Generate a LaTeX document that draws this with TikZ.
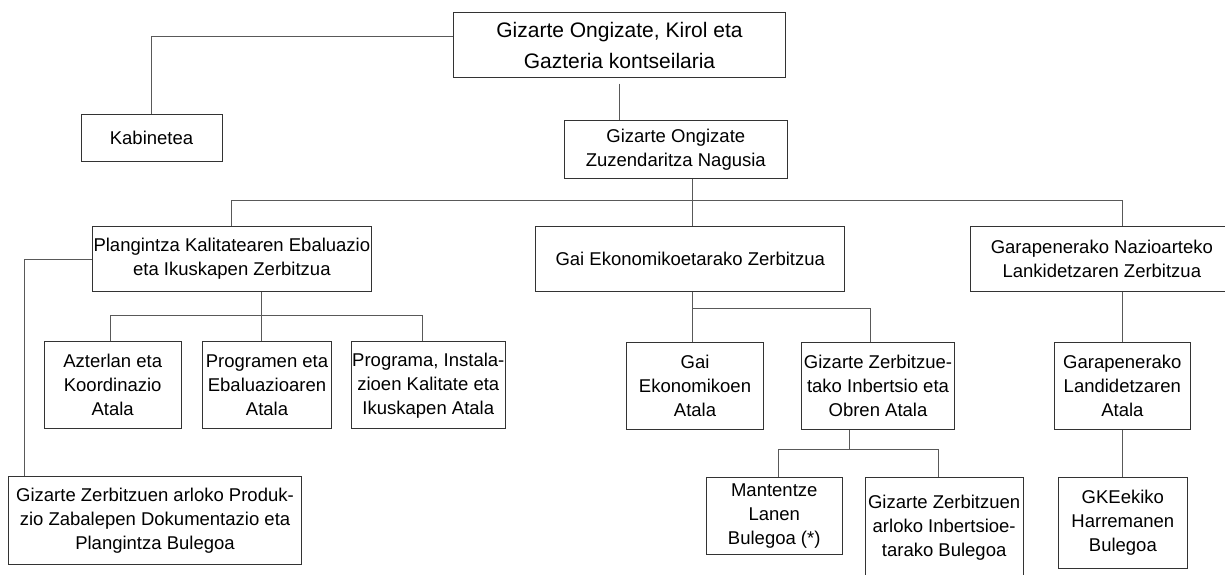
\documentclass[tikz,border=0pt]{standalone}
\usepackage{fontspec}
\setmainfont{Liberation Sans}
\usetikzlibrary{positioning}

\tikzset{
  unitate/.style={draw=black!80, line width=0.9pt, inner sep=1pt, align=center,
    font=\fontsize{18.5}{24}\selectfont},
  atala/.style={unitate, minimum height=87pt},
  lotura/.style={draw=black!65, line width=0.9pt}
}

\begin{document}
\begin{tikzpicture}[x=1pt,y=-1pt]
\useasboundingbox (0,0) rectangle (1225,574);
\clip (0,0) rectangle (1225,574);
% goiko mailak
\node[unitate, minimum width=332pt, minimum height=65pt, font=\fontsize{21}{31}\selectfont]
  (kontseilaria) at (619.5,45) {Gizarte Ongizate, Kirol eta\\Gazteria kontseilaria};
\node[unitate, minimum width=141pt, minimum height=46.6pt] (kabinetea) at (151.5,138) {Kabinetea};
\node[unitate, minimum width=223pt, minimum height=58pt] (zuzendaritza) at (675.8,149.5)
  {Gizarte Ongizate\\Zuzendaritza Nagusia};
% zerbitzuak
\node[unitate, minimum width=279.7pt, minimum height=64.6pt] (plangintza) at (231.85,259)
  {Plangintza Kalitatearen Ebaluazio\\eta Ikuskapen Zerbitzua};
\node[unitate, minimum width=309pt, minimum height=64.6pt] (ekonomia) at (690.2,259)
  {Gai Ekonomikoetarako Zerbitzua};
\node[unitate, minimum width=262.3pt, minimum height=64.6pt] (nazioarteko) at (1101.85,259)
  {Garapenerako Nazioarteko\\Lankidetzaren Zerbitzua};
% atalak
\node[atala, minimum width=136.6pt] (azterlan) at (112.7,385.35) {Azterlan eta\\Koordinazio\\Atala};
\node[atala, minimum width=129pt] (programen) at (267,385.35) {Programen eta\\Ebaluazioaren\\Atala};
\node[atala, minimum width=152.2pt] (instalazio) at (428.3,385.35)
  {Programa, Instala-\\zioen Kalitate eta\\Ikuskapen Atala};
\node[atala, minimum width=136.7pt] (ekonomikoen) at (695,385.85) {Gai\\Ekonomikoen\\Atala};
\node[atala, minimum width=152.6pt] (inbertsio) at (878,385.85)
  {Gizarte Zerbitzue-\\tako Inbertsio eta\\Obren Atala};
\node[atala, minimum width=136.3pt] (landidetza) at (1122.35,385.85)
  {Garapenerako\\Landidetzaren\\Atala};
% bulegoak
\node[unitate, minimum width=292.4pt, minimum height=87.6pt] (dokumentazio) at (155,520.5)
  {Gizarte Zerbitzuen arloko Produk-\\zio Zabalepen Dokumentazio eta\\Plangintza Bulegoa};
\node[unitate, minimum width=136.5pt, minimum height=76.5pt] (mantentze) at (774.25,515.75)
  {Mantentze\\Lanen\\Bulegoa (*)};
\node[unitate, minimum width=158.3pt, minimum height=100pt] (inbertsiobul) at (944.15,527.3)
  {Gizarte Zerbitzuen\\arloko Inbertsioe-\\tarako Bulegoa};
\node[unitate, minimum width=129.1pt, minimum height=91.4pt] (gkeekiko) at (1122.85,523)
  {GKEekiko\\Harremanen\\Bulegoa};

\coordinate (bus1) at (692.7,200.7);
\coordinate (bus2) at (261,315.3);
\coordinate (bus3) at (692.7,308.3);
\coordinate (bus4) at (849.5,449.3);

\draw[lotura] ([yshift=8.3pt]kontseilaria.west) -| (kabinetea.north);
\draw[lotura, shorten <=5.6pt] (kontseilaria.south) -- (kontseilaria.south |- zuzendaritza.north);
\draw[lotura] (zuzendaritza.south -| bus1) -- (ekonomia.north -| bus1);
\draw[lotura] (plangintza.north) |- (bus1) -| (nazioarteko.north -| landidetza.north);

\draw[lotura] (plangintza.south -| bus2) -- (programen.north -| bus2);
\draw[lotura] ([xshift=-2.7pt]azterlan.north) |- (bus2) -| ([xshift=-5.8pt]instalazio.north);
\draw[lotura] (plangintza.west) -| ([xshift=-130.5pt]dokumentazio.north);

\draw[lotura] (ekonomia.south -| bus3) -- (ekonomikoen.north -| bus3);
\draw[lotura] (bus3) -| ([xshift=-7.7pt]inbertsio.north);
\draw[lotura] (inbertsio.south -| bus4) -- (bus4);
\draw[lotura] ([xshift=4pt]mantentze.north) |- (bus4) -| ([xshift=-6.2pt]inbertsiobul.north);

\draw[lotura] (nazioarteko.south -| landidetza.north) -- (landidetza.north);
\draw[lotura] (landidetza.south) -- (landidetza.south |- gkeekiko.north);
\end{tikzpicture}
\end{document}
